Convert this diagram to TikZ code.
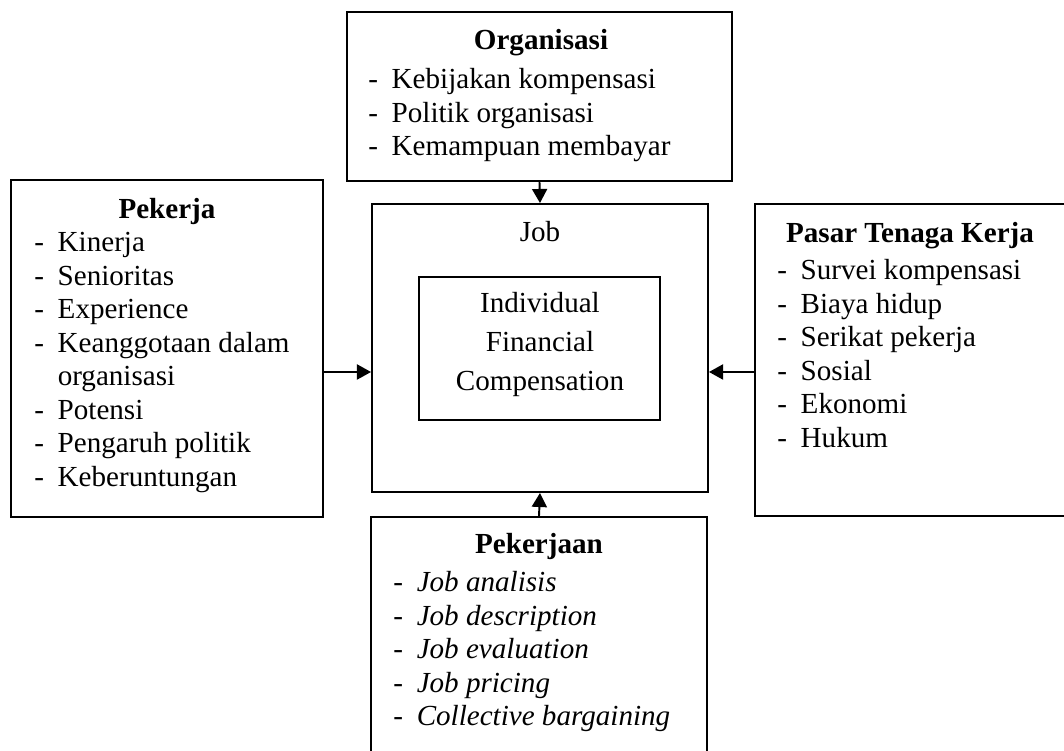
\documentclass[tikz,border=0pt]{standalone}
\usepackage{fontspec}
\setmainfont{Liberation Serif}
\usetikzlibrary{arrows.meta}

\newcommand{\pxu}{0.4125pt}

\begin{document}
\begin{tikzpicture}[x=0.4125pt, y=-0.4125pt,
        box/.style={draw, line width=0.8pt, inner sep=0pt},
        head/.style={font=\fontsize{12}{13.8}\selectfont\bfseries, inner sep=0pt, anchor=base},
        lst/.style={font=\fontsize{12}{13.8}\selectfont, inner sep=0pt, anchor=base west},
        arr/.style={-{Triangle[length=5.8pt, width=6.2pt]}, line width=0.8pt}]
        \useasboundingbox (0,0) rectangle (1064,751);
        
        % Kotak-kotak
        \node[box, minimum width=385*\pxu, minimum height=169*\pxu] (org) at (539.5,96.5) {};
        \node[box, minimum width=312*\pxu, minimum height=337*\pxu] (pkj) at (167,348.5) {};
        \node[box, minimum width=336*\pxu, minimum height=288*\pxu] (job) at (540,348) {};
        \node[box, minimum width=241*\pxu, minimum height=143*\pxu] (ifc) at (539.5,348.5) {};
        \node[box, minimum width=313*\pxu, minimum height=312*\pxu] (psr) at (911.5,360) {};
        \node[box, minimum width=336*\pxu, minimum height=263*\pxu] (pkn) at (539,648.5) {};
        
        % Organisasi
        \node[head] (orgT) at (541,50) {Organisasi};
        \node[lst] (orgL) at (368,89) {\begin{tabular}[t]{@{}p{9.6pt}@{}l@{}}
            - & Kebijakan kompensasi\\
            - & Politik organisasi\\
            - & Kemampuan membayar
        \end{tabular}};
        
        % Pekerja
        \node[head] (pkjT) at (167,219) {Pekerja};
        \node[lst] (pkjL) at (34,252) {\begin{tabular}[t]{@{}p{9.6pt}@{}l@{}}
            - & Kinerja\\
            - & Senioritas\\
            - & Experience\\
            - & Keanggotaan dalam\\
              & organisasi\\
            - & Potensi\\
            - & Pengaruh politik\\
            - & Keberuntungan
        \end{tabular}};
        
        % Pasar Tenaga Kerja
        \node[head] (psrT) at (910,243) {Pasar Tenaga Kerja};
        \node[lst] (psrL) at (777,280) {\begin{tabular}[t]{@{}p{9.6pt}@{}l@{}}
            - & Survei kompensasi\\
            - & Biaya hidup\\
            - & Serikat pekerja\\
            - & Sosial\\
            - & Ekonomi\\
            - & Hukum
        \end{tabular}};
        
        % Pekerjaan
        \node[head] (pknT) at (539,554) {Pekerjaan};
        \node[lst] (pknL) at (393,592) {\begin{tabular}[t]{@{}p{9.6pt}@{}l@{}}
            - & \textit{Job analisis}\\
            - & \textit{Job description}\\
            - & \textit{Job evaluation}\\
            - & \textit{Job pricing}\\
            - & \textit{Collective bargaining}
        \end{tabular}};
        
        % Job
        \node[inner sep=0pt, anchor=base, font=\fontsize{12}{13.8}\selectfont] (jobT) at (540,242) {Job};
        \node[inner sep=0pt, anchor=base, font=\fontsize{12}{16}\selectfont] (ifcT) at (540,313) {\begin{tabular}[t]{@{}c@{}}
            Individual\\
            Financial\\
            Compensation
        \end{tabular}};
        
        % Panah
        \coordinate (mid) at (0,372);
        \draw[arr] (org.south) -- (job.north);
        \draw[arr] (pkn.north) -- (job.south);
        \draw[arr] (pkj.east |- mid) -- (job.west |- mid);
        \draw[arr] (psr.west |- mid) -- (job.east |- mid);
\end{tikzpicture}
\end{document}
